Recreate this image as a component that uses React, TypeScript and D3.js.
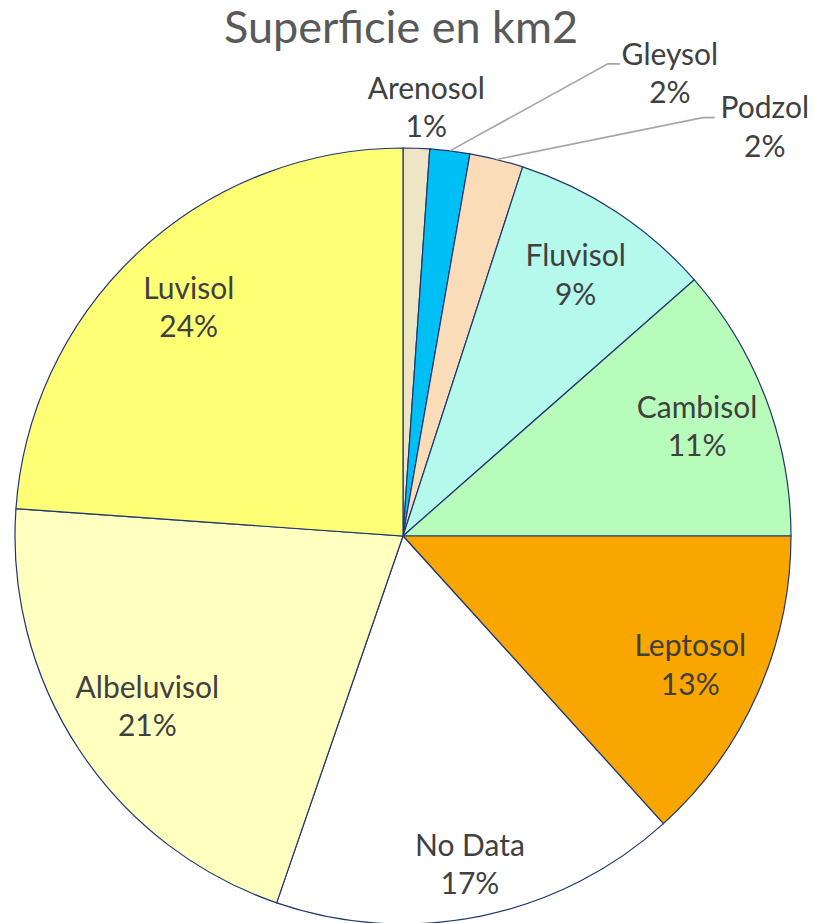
import React from "react";
import * as d3 from "d3";

// Soil types, clockwise from 12 o'clock
const soils = [
  "Arenosol",
  "Gleysol",
  "Podzol",
  "Fluvisol",
  "Cambisol",
  "Leptosol",
  "No Data",
  "Albeluvisol",
  "Luvisol",
];

// share of total area (%)
const shares = [1.1, 1.66, 2.23, 8.53, 11.48, 13.29, 16.99, 20.84, 23.88];

const colors = [
  "#EEE5C5",
  "#00BFF4",
  "#FADDB8",
  "#B4F9EC",
  "#B8FCBC",
  "#F9A600",
  "#FFFFFF",
  "#FFFFC0",
  "#FFFF75",
];

// small slices get their label pulled outside: [radius factor, angle in degrees, leader line]
const outsideLabels: Record<string, [number, number, boolean]> = {
  Arenosol: [1.11, 3.1, false],
  Gleysol: [1.38, 29.9, true],
  Podzol: [1.41, 41.4, true],
};

// inside labels that Excel's best fit put a bit further in/out
const labelRadiusFactor: Record<string, number> = {
  "No Data": 0.86,
  Albeluvisol: 0.79,
};

const width = 815;
const height = 923;
const cx = 403;
const cy = 536;
const radius = 388;
const lineGap = 38.5;
const font = "Lato, 'Open Sans', sans-serif";

type Slice = { name: string; value: number; color: string };

const App: React.FC = () => {
  const data: Slice[] = soils.map((name, i) => ({ name, value: shares[i], color: colors[i] }));

  const pie = d3
    .pie<Slice>()
    .value((d) => d.value)
    .sort(null);
  const arcs = pie(data);

  const arc = d3
    .arc<d3.PieArcDatum<Slice>>()
    .innerRadius(0)
    .outerRadius(radius);

  const total = d3.sum(shares);
  const pct = (v: number) => `${Math.round((v / total) * 100)}%`;

  const polar = (r: number, deg: number): [number, number] => {
    const a = (deg * Math.PI) / 180;
    return [r * Math.sin(a), -r * Math.cos(a)];
  };

  return (
    <svg
      width={width}
      height={height}
      style={{ position: "absolute", left: 0, top: 0, background: "#fff" }}
    >
      <text
        x={401}
        y={43}
        textAnchor="middle"
        fontFamily={font}
        fontSize={45}
        fill="#595959"
      >
        Superficie en km2
      </text>
      <g transform={`translate(${cx},${cy})`}>
        {arcs.map((a) => (
          <path
            key={a.data.name}
            d={arc(a) ?? ""}
            fill={a.data.color}
            stroke="#1F3670"
            strokeWidth={1.2}
          />
        ))}
        {arcs.map((a) => {
          const out = outsideLabels[a.data.name];
          let x: number;
          let y: number;
          let leader: string | null = null;
          if (out) {
            [x, y] = polar(radius * out[0], out[1]);
            if (out[2]) {
              const mid = (((a.startAngle + a.endAngle) / 2) * 180) / Math.PI;
              const [sx, sy] = polar(radius, mid);
              const ex = x - 50;
              const ey = y - 8;
              leader = `M${sx},${sy}L${ex - 12},${ey}L${ex},${ey}`;
            }
          } else {
            const f = labelRadiusFactor[a.data.name] ?? 0.81;
            const r = radius * f;
            [x, y] = d3.arc<d3.PieArcDatum<Slice>>().innerRadius(r).outerRadius(r).centroid(a);
          }
          return (
            <g key={a.data.name + "-label"}>
              {leader && (
                <path d={leader} fill="none" stroke="#A6A6A6" strokeWidth={1.6} />
              )}
              <text
                textAnchor="middle"
                fontFamily={font}
                fontSize={30}
                fill="#404040"
              >
                <tspan x={x} y={y - lineGap / 2} dominantBaseline="central">
                  {a.data.name}
                </tspan>
                <tspan x={x} y={y + lineGap / 2} dominantBaseline="central">
                  {pct(a.data.value)}
                </tspan>
              </text>
            </g>
          );
        })}
      </g>
    </svg>
  );
};

export default App;
